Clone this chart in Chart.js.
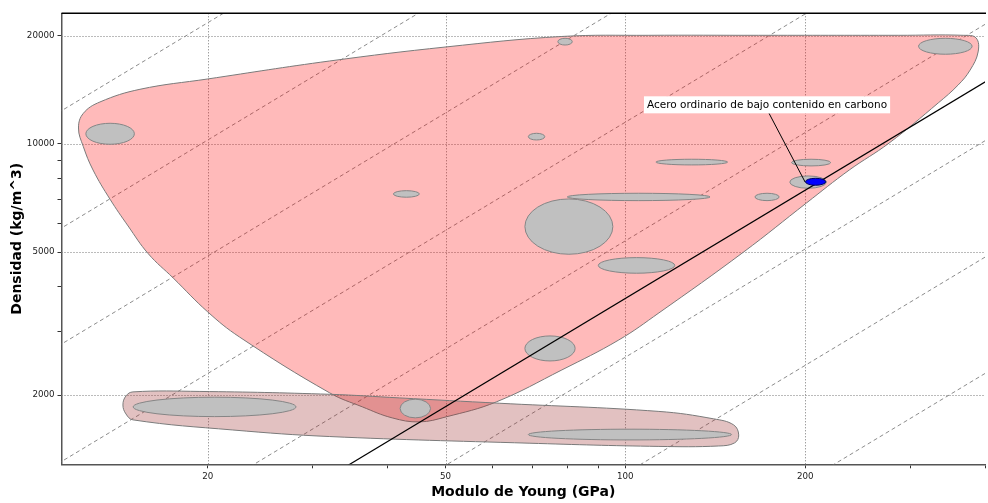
<!DOCTYPE html>
<html>
<head>
<meta charset="utf-8">
<script src="https://cdn.jsdelivr.net/npm/chart.js@4.4.1/dist/chart.umd.min.js"></script>
<style>
  html, body { margin: 0; padding: 0; background: #fff; }
  canvas { display: block; }
</style>
</head>
<body>
<canvas id="ashby" width="988" height="503"></canvas>
<script>
// ticks on the two log axes
const xTickValues = [20, 30, 40, 50, 60, 70, 80, 90, 100, 200, 300, 400];
const xTickLabels = [20, 50, 100, 200];
const yTickValues = [2000, 3000, 4000, 5000, 6000, 7000, 8000, 9000, 10000, 20000];
const yTickLabels = [2000, 5000, 10000, 20000];

// big family envelope, Young's modulus (GPa) / density (kg/m^3), traced clockwise
const metalsE = [167.1, 286.3, 367.7, 386.5, 389.5, 377.7, 360.7, 334.0, 276.5, 237.1, 201.0, 157.8,
  113.8, 97.5, 78.3, 60.8, 50.1, 45.2, 40.7, 36.3, 32.0, 22.6, 20.0, 17.5, 15.9, 14.71, 13.72, 12.85,
  12.38, 12.15, 12.38, 13.2, 15.4, 20.0, 32.0, 50.1, 78.3, 109.5, 167.1];
const metalsRho = [20050, 20050, 20050, 19710, 18020, 16050, 14585, 13000, 10060, 8463, 6851, 5006,
  3388, 2849, 2352, 1916, 1741, 1686, 1730, 1856, 2030, 2904, 3409, 4239, 4950, 5913, 7018, 8463,
  9825, 11074, 12166, 13083, 14190, 15160, 17010, 18610, 19900, 20050, 20050];

// lower family envelope
const lowerE = [41.85, 61.5, 113.8, 140.6, 151.8, 154.8, 152.4, 143.3, 113.8, 69.0, 32.0, 22.02,
  14.99, 14.59, 14.42, 14.59, 14.99, 19.4, 32.0, 41.85];
const lowerRho = [1966, 1900, 1803, 1719, 1654, 1551, 1474, 1445, 1441, 1471, 1535, 1601,
  1708, 1774, 1879, 1991, 2043, 2049, 2012, 1966];

// individual materials: property ranges, drawn as ellipses
const matEMin = [12.5, 77.1, 68.8, 309.6, 112.5, 189.7, 188.5, 164.8, 79.95, 40.9, 67.9, 90.1, 67.9, 41.97, 15.0, 68.8];
const matEMax = [15.07, 81.5, 73.3, 380.6, 148.3, 220.7, 217.1, 180.9, 138.6, 45.2, 95.3, 121.0, 82.4, 47.2, 28.1, 150.6];
const matRhoMin = [9978, 18840, 10256, 17760, 8741, 8686, 7528, 6955, 6955, 7108, 4933, 4369, 2491, 1730, 1744, 1502];
const matRhoMax = [11414, 19670, 10705, 19670, 9066, 9066, 8146, 7291, 7291, 7413, 7030, 4828, 2924, 1950, 1975, 1609];

// highlighted material
const steelName = 'Acero ordinario de bajo contenido en carbono';
const steelE = [200.2, 216.5];
const steelRho = [7674, 8025];
const steelPoint = [200, 7830];
const steelLabelAt = [174, 12166];

// E/rho guide lines (GPa per kg/m^3) and the selection line through steel
const guideRatios = [0.00092, 0.00195, 0.0041, 0.0087, 0.0186, 0.0392, 0.0826, 0.174];
const selectionRatio = 0.0269;
const lineEnds = [5, 1000];

function toPoints(xs, ys) {
  return xs.map((x, i) => ({ x: x, y: ys[i] }));
}

function ratioLine(c) {
  return lineEnds.map(e => ({ x: e, y: e / c }));
}

function ellipseBox(chart, e0, e1, r0, r1) {
  const xs = chart.scales.x, ys = chart.scales.y;
  const x0 = xs.getPixelForValue(e0), x1 = xs.getPixelForValue(e1);
  const yTop = ys.getPixelForValue(r1), yBot = ys.getPixelForValue(r0);
  return { cx: (x0 + x1) / 2, cy: (yTop + yBot) / 2, rx: (x1 - x0) / 2, ry: (yBot - yTop) / 2 };
}

function drawEllipse(ctx, b, fill, stroke) {
  ctx.beginPath();
  ctx.ellipse(b.cx, b.cy, b.rx, b.ry, 0, 0, Math.PI * 2);
  ctx.fillStyle = fill;
  ctx.fill();
  ctx.lineWidth = 1;
  ctx.strokeStyle = stroke;
  ctx.stroke();
}

const LOWER_INDEX = 1;

const materialsPlugin = {
  id: 'materials',
  beforeDatasetsDraw(chart) {
    // dotted grid at the labelled ticks only
    const ctx = chart.ctx;
    const xs = chart.scales.x, ys = chart.scales.y;
    const area = chart.chartArea;
    ctx.save();
    ctx.strokeStyle = '#777';
    ctx.lineWidth = 1;
    ctx.setLineDash([1, 2]);
    xTickLabels.forEach(v => {
      const x = Math.round(xs.getPixelForValue(v)) + 0.5;
      ctx.beginPath();
      ctx.moveTo(x, area.top);
      ctx.lineTo(x, area.bottom);
      ctx.stroke();
    });
    yTickLabels.forEach(v => {
      const y = Math.round(ys.getPixelForValue(v)) + 0.5;
      ctx.beginPath();
      ctx.moveTo(area.left, y);
      ctx.lineTo(area.right, y);
      ctx.stroke();
    });
    ctx.restore();
  },
  afterDatasetDraw(chart, args) {
    if (args.index !== LOWER_INDEX) return;
    const ctx = chart.ctx;
    ctx.save();
    for (let i = 0; i < matEMin.length; i++) {
      const b = ellipseBox(chart, matEMin[i], matEMax[i], matRhoMin[i], matRhoMax[i]);
      drawEllipse(ctx, b, '#c0c0c0', '#858585');
    }
    ctx.restore();
  },
  afterDatasetsDraw(chart) {
    const ctx = chart.ctx;
    const xs = chart.scales.x, ys = chart.scales.y;
    const area = chart.chartArea;
    ctx.save();

    // frame top line
    ctx.strokeStyle = '#000';
    ctx.lineWidth = 1.5;
    ctx.beginPath();
    ctx.moveTo(area.left, area.top);
    ctx.lineTo(area.right + 1, area.top);
    ctx.stroke();

    // leader
    const lx = xs.getPixelForValue(steelLabelAt[0]);
    const ly = ys.getPixelForValue(steelLabelAt[1]);
    const px = xs.getPixelForValue(steelPoint[0]);
    const py = ys.getPixelForValue(steelPoint[1]);
    ctx.strokeStyle = '#000';
    ctx.lineWidth = 1;
    ctx.beginPath();
    ctx.moveTo(lx, ly);
    ctx.lineTo(px, py);
    ctx.stroke();

    // highlighted ellipse
    const b = ellipseBox(chart, steelE[0], steelE[1], steelRho[0], steelRho[1]);
    drawEllipse(ctx, b, '#0000ff', '#000060');

    // label box
    ctx.font = '10.5px "DejaVu Sans"';
    const w = ctx.measureText(steelName).width + 6;
    const h = 17;
    ctx.fillStyle = '#fff';
    ctx.fillRect(lx - w / 2 - 2, ly - h, w, h);
    ctx.fillStyle = '#000';
    ctx.textBaseline = 'middle';
    ctx.textAlign = 'center';
    ctx.fillText(steelName, lx - 2, ly - h / 2);
    ctx.restore();
  }
};

const datasets = [
  {
    data: ratioLine(selectionRatio),
    showLine: true, borderColor: '#000', borderWidth: 1.2, tension: 0
  },
  {
    data: toPoints(lowerE, lowerRho),
    showLine: true, tension: 0.4, fill: 'shape',
    borderColor: '#7a7a7a', borderWidth: 1,
    backgroundColor: 'rgba(160, 50, 50, 0.3)'
  },
  {
    data: toPoints(metalsE, metalsRho),
    showLine: true, tension: 0.4, fill: 'shape',
    borderColor: '#7a7a7a', borderWidth: 1,
    backgroundColor: 'rgba(255, 0, 0, 0.27)'
  }
].concat(guideRatios.map(c => ({
  data: ratioLine(c),
  showLine: true, borderColor: '#8c8c8c', borderWidth: 1, borderDash: [4, 3], tension: 0
})));

Chart.defaults.font.family = '"DejaVu Sans", Verdana, sans-serif';

new Chart(document.getElementById('ashby'), {
  type: 'scatter',
  data: { datasets: datasets },
  plugins: [materialsPlugin],
  options: {
    responsive: false,
    animation: false,
    events: [],
    devicePixelRatio: 1,
    layout: { padding: { top: 13.3, right: 1, left: 0, bottom: 0 } },
    elements: { point: { radius: 0 } },
    plugins: { legend: { display: false }, tooltip: { enabled: false } },
    scales: {
      x: {
        type: 'logarithmic',
        min: 11.38,
        max: 400,
        afterBuildTicks: s => { s.ticks = xTickValues.map(v => ({ value: v })); },
        afterFit: s => { s.height = 38.7; },
        ticks: {
          autoSkip: false, maxRotation: 0, padding: 3,
          color: '#222', font: { size: 8.7 },
          callback: v => xTickLabels.includes(v) ? String(v) : ''
        },
        grid: {
          drawOnChartArea: false,
          tickColor: '#333', tickLength: 4, tickWidth: 1
        },
        border: { display: true, color: '#555', width: 1.5 },
        title: {
          display: true, text: 'Modulo de Young (GPa)', color: '#000',
          font: { size: 14, weight: 'bold' }, padding: { top: 0, bottom: 2 }
        }
      },
      y: {
        type: 'logarithmic',
        min: 1285,
        max: 23085,
        afterBuildTicks: s => { s.ticks = yTickValues.map(v => ({ value: v })); },
        afterFit: s => { s.width = 61.5; },
        ticks: {
          autoSkip: false, padding: 3,
          color: '#222', font: { size: 8.7 },
          callback: v => yTickLabels.includes(v) ? String(v) : ''
        },
        grid: {
          drawOnChartArea: false,
          tickColor: '#333', tickLength: 4, tickWidth: 1
        },
        border: { display: true, color: '#555', width: 1.5 },
        title: {
          display: true, text: 'Densidad (kg/m^3)', color: '#000',
          font: { size: 14, weight: 'bold' }, padding: { top: 9, bottom: 0 }
        }
      }
    }
  }
});
</script>
</body>
</html>
